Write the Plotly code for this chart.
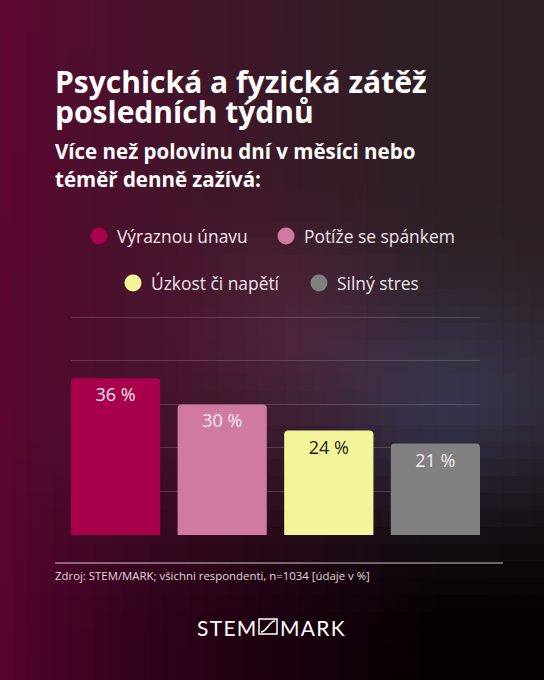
import math
import plotly.graph_objects as go

# ========== DATA ==========
categories = ["Výraznou únavu", "Potíže se spánkem", "Úzkost či napětí", "Silný stres"]
values = [36, 30, 24, 21]
bar_colors = ["#a8004a", "#d17aa0", "#f4f59b", "#808080"]
label_colors = ["#f6eaf0", "#f6eaf0", "#1a1a1a", "#f6eaf0"]

title_lines = ["Psychická a fyzická zátěž", "posledních týdnů"]
subtitle_lines = ["Více než polovinu dní v měsíci nebo", "téměř denně zažívá:"]
source_text = "Zdroj: STEM/MARK; všichni respondenti, n=1034 [údaje v %]"

# ========== GEOMETRY ==========
W, H = 544, 680
L, R, T, B = 71, 64, 313, 145
FONT = "Open Sans"


def px_x(x):
    return (x - L) / (W - L - R)


def px_y(y):
    return (H - B - y) / (H - T - B)


def lerp(a, b, t):
    return tuple(a[i] + (b[i] - a[i]) * t for i in range(3))


def smooth(e0, e1, v):
    t = min(1, max(0, (v - e0) / (e1 - e0)))
    return t * t * (3 - 2 * t)


def bg_color(x, y):
    # rough stand-in for the photo with magenta overlay
    s = y / H
    left = lerp((98, 5, 50), (92, 5, 50), s)
    right = lerp((44, 32, 36), (5, 0, 3), smooth(0.55, 0.95, s))
    w = min(1, (x / W) * 1.25) ** 0.65
    c = lerp(left, right, w)
    # shirt-ish bluish glow on the right
    g = math.exp(-(((x - 450) / 130) ** 2) - (((y - 400) / 100) ** 2))
    c = (c[0] + 10 * g, c[1] + 20 * g, c[2] + 38 * g)
    # face/arm glow in the middle
    g2 = math.exp(-(((x - 290) / 100) ** 2) - (((y - 320) / 90) ** 2))
    c = (c[0] + 18 * g2, c[1] + 8 * g2, c[2] + 14 * g2)
    return "rgb(%d,%d,%d)" % tuple(max(0, min(255, round(v))) for v in c)


shapes = []
nx, ny = 40, 40
cw, ch = W / nx, H / ny
for i in range(nx):
    for j in range(ny):
        x0, y0 = i * cw, j * ch
        shapes.append(dict(
            type="rect", xref="paper", yref="paper", layer="below",
            x0=px_x(x0), x1=px_x(x0 + cw + 0.6), y0=px_y(y0), y1=px_y(y0 + ch + 0.6),
            fillcolor=bg_color(x0 + cw / 2, y0 + ch / 2), line=dict(width=0)))

# ========== CHART ==========
fig = go.Figure(go.Bar(
    x=categories, y=values,
    marker=dict(color=bar_colors, line=dict(width=0)),
    width=0.837,
    text=["%d %%" % v for v in values],
    textposition="inside", insidetextanchor="end", textangle=0,
    insidetextfont=dict(family=FONT, size=18, color=label_colors),
    showlegend=False,
))

annotations = []
for k, line in enumerate(title_lines):
    annotations.append(dict(text="<b>%s</b>" % line, x=px_x(53), y=px_y(81 + 31 * k),
                            font=dict(family=FONT, size=30, color="white")))
for k, line in enumerate(subtitle_lines):
    annotations.append(dict(text="<b>%s</b>" % line, x=px_x(53), y=px_y(151 + 28 * k),
                            font=dict(family=FONT, size=20.5, color="white")))

# legend drawn by hand (two centred rows with round markers)
legend_cx = [99, 286, 133, 319]
legend_cy = [236, 236, 283, 283]
for name, col, cx, cy in zip(categories, bar_colors, legend_cx, legend_cy):
    rr = 8.5
    shapes.append(dict(type="circle", xref="paper", yref="paper",
                       x0=px_x(cx - rr), x1=px_x(cx + rr), y0=px_y(cy - rr), y1=px_y(cy + rr),
                       fillcolor=col, line=dict(width=0)))
    annotations.append(dict(text=name, x=px_x(cx + 16), y=px_y(cy),
                            font=dict(family=FONT, size=17.4, color="#efe4ea")))

# footer
shapes.append(dict(type="line", xref="paper", yref="paper",
                   x0=px_x(55), x1=px_x(503), y0=px_y(563), y1=px_y(563),
                   line=dict(color="rgba(230,220,225,0.6)", width=1.5)))
annotations.append(dict(text=source_text, x=px_x(53), y=px_y(575),
                        font=dict(family=FONT, size=11.4, color="#e2d8dd")))

# logo
hs = "\u200a"
annotations.append(dict(text=hs.join("STEM"), x=px_x(258), y=px_y(627), xanchor="right",
                        font=dict(family="Lato", size=21, color="white")))
annotations.append(dict(text=hs.join("MARK"), x=px_x(278), y=px_y(627), xanchor="left",
                        font=dict(family="Lato", size=21, color="white")))
shapes.append(dict(type="rect", xref="paper", yref="paper",
                   x0=px_x(259), x1=px_x(277), y0=px_y(634), y1=px_y(619),
                   line=dict(color="white", width=1.5)))
shapes.append(dict(type="path", xref="paper", yref="paper",
                   path="M %f,%f C %f,%f %f,%f %f,%f" % (
                       px_x(261), px_y(632), px_x(267), px_y(632),
                       px_x(269), px_y(621), px_x(275), px_y(621)),
                   line=dict(color="white", width=1.5)))

for a in annotations:
    a.setdefault("xanchor", "left")
    a.update(xref="paper", yref="paper", yanchor="middle", showarrow=False)

fig.update_layout(
    width=W, height=H,
    margin=dict(l=L, r=R, t=T, b=B),
    paper_bgcolor="#2a0a1c",
    plot_bgcolor="rgba(0,0,0,0)",
    font=dict(family=FONT, color="white"),
    barcornerradius=4,
    shapes=shapes,
    annotations=annotations,
)
fig.update_xaxes(range=[-0.4185, 3.4185], showticklabels=False, showgrid=False,
                 zeroline=False, showline=False, fixedrange=True)
fig.update_yaxes(range=[0, 51], tickvals=[10, 20, 30, 40, 50], showticklabels=False,
                 showgrid=True, gridcolor="rgba(255,255,255,0.16)", gridwidth=1,
                 zeroline=False, showline=False, fixedrange=True)

fig.write_html("out.html", config={"displayModeBar": False},
               post_script="document.body.style.margin='0';")
